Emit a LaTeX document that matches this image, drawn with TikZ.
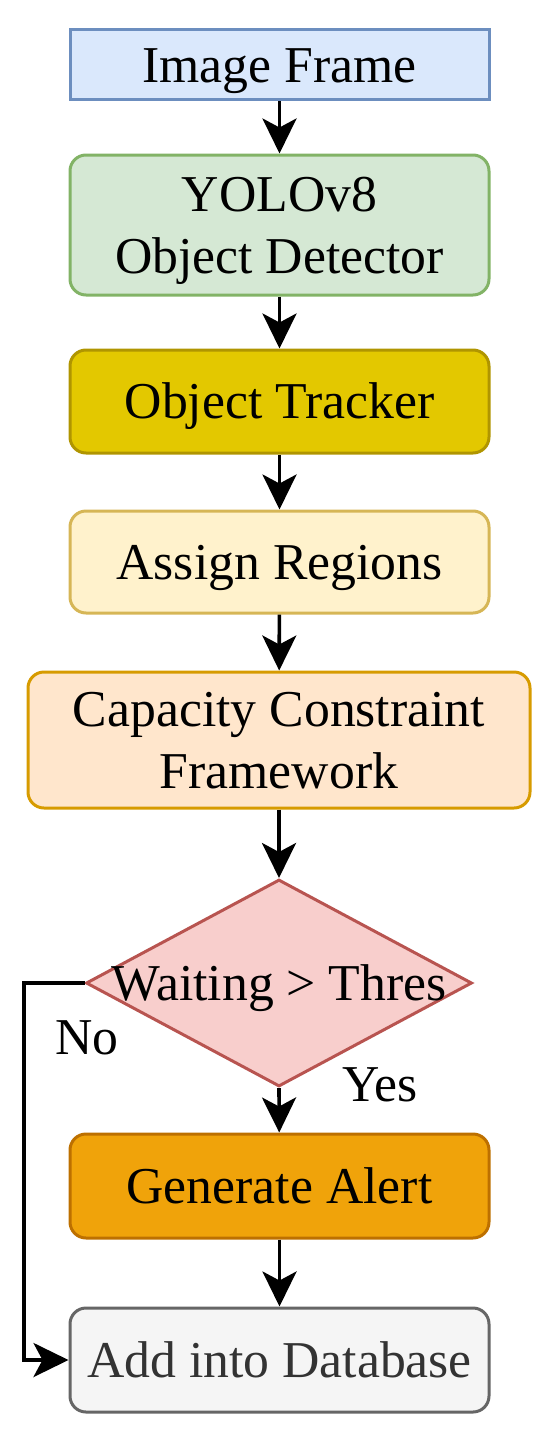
\documentclass[tikz,border=0pt]{standalone}
\usepackage{fontspec}
\setmainfont{Liberation Serif}
\usetikzlibrary{shapes.geometric,arrows.meta}
\definecolor{bluef}{HTML}{DAE8FC}\definecolor{blued}{HTML}{6C8EBF}
\definecolor{greenf}{HTML}{D5E8D4}\definecolor{greend}{HTML}{82B366}
\definecolor{ylwf}{HTML}{E3C800}\definecolor{ylwd}{HTML}{B09500}
\definecolor{ltyf}{HTML}{FFF2CC}\definecolor{ltyd}{HTML}{D6B656}
\definecolor{orgf}{HTML}{FFE6CC}\definecolor{orgd}{HTML}{D79B00}
\definecolor{redf}{HTML}{F8CECC}\definecolor{redd}{HTML}{B85450}
\definecolor{dorf}{HTML}{F0A30A}\definecolor{dord}{HTML}{BD7000}
\definecolor{grayf}{HTML}{F5F5F5}\definecolor{grayd}{HTML}{666666}
\definecolor{grayt}{HTML}{333333}
\newcommand\mystrut{\rule[-5.6pt]{0pt}{28.6pt}}
\begin{document}
\begin{tikzpicture}[x=0.5pt,y=-0.5pt,
  box/.style={rectangle,draw,line width=1.5pt,inner sep=0pt,minimum width=209.5pt,align=center,
    font=\fontsize{25.85}{31}\selectfont},
  rbox/.style={box,rounded corners=8pt},
  arr/.style={line width=1.8pt,-{Stealth[length=17.5pt,width=17pt,inset=4.5pt]}},
  lbl/.style={font=\fontsize{25.85}{31}\selectfont,inner sep=0pt}]
\useasboundingbox (0,0) rectangle (550,1434);
\node[box,fill=bluef,draw=blued,minimum height=35pt] (a) at (279.5,65) {\mystrut Image Frame};
\node[rbox,fill=greenf,draw=greend,minimum height=70pt] (b) at (279.5,225) {\mystrut YOLOv8\\\mystrut Object Detector};
\node[rbox,fill=ylwf,draw=ylwd,minimum height=51.5pt] (c) at (279.5,401.5) {\mystrut Object Tracker};
\node[rbox,fill=ltyf,draw=ltyd,minimum height=51pt] (d) at (279.5,562) {\mystrut Assign Regions};
\node[rbox,fill=orgf,draw=orgd,minimum height=68pt,minimum width=251pt] (e) at (279,740) {\mystrut Capacity Constraint\\\mystrut Framework};
\node[diamond,draw=redd,fill=redf,line width=1.5pt,inner sep=0pt,minimum width=193pt,minimum height=103.5pt] (f) at (279,983) {};
\node[lbl] (ft) at (279,983) {\mystrut Waiting > Thres};
\node[rbox,fill=dorf,draw=dord,minimum height=52pt] (g) at (279.5,1186) {\mystrut Generate Alert};
\node[rbox,fill=grayf,draw=grayd,minimum height=52pt,text=grayt] (h) at (279.5,1360) {\mystrut Add into Database};
\coordinate (n1) at (24,983);
\coordinate (n2) at (24,1360);
\draw[arr] (a) -- (b);
\draw[arr] (b) -- (c);
\draw[arr] (c) -- (d);
\draw[arr] (d) -- (e);
\draw[arr] (e) -- (f.north);
\draw[arr] (f.south) -- (g);
\draw[arr] (g) -- (h);
\draw[arr] (f.west) -- (n1) -- (n2) -- (h.west);
\node[lbl] (no) at (87,1037) {\mystrut No};
\node[lbl] (yes) at (380,1084) {\mystrut Yes};
\end{tikzpicture}
\end{document}
